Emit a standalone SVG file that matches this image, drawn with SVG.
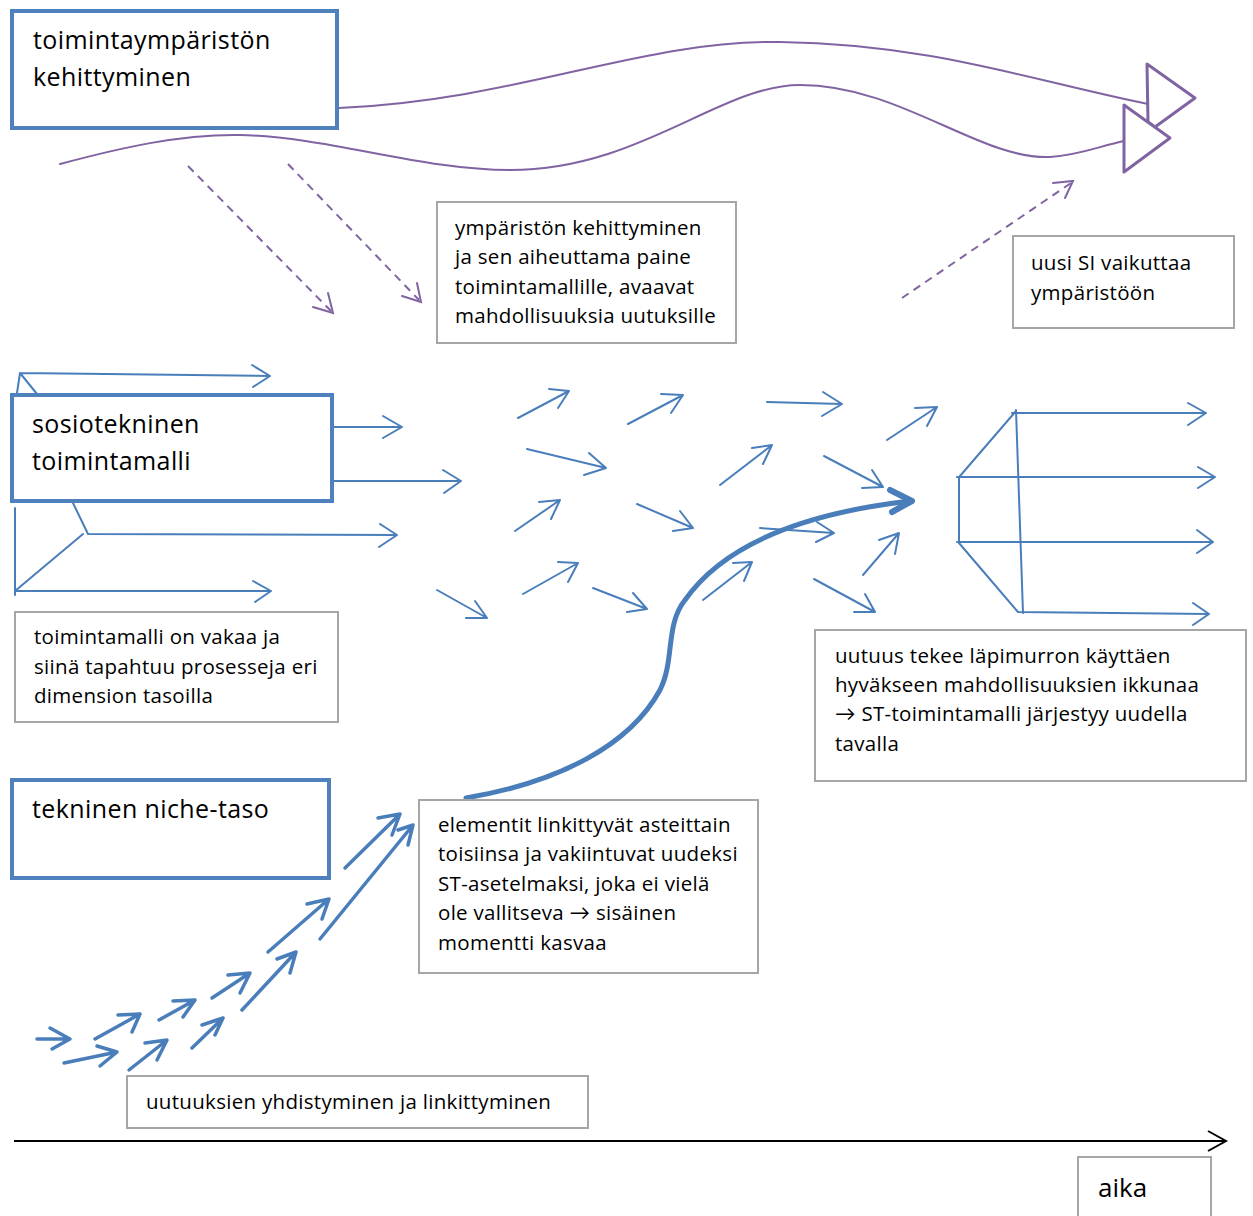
<svg xmlns="http://www.w3.org/2000/svg" width="1253" height="1216" viewBox="0 0 1253 1216">
<style>
.bx{fill:#fff;stroke:#4f81bd;stroke-width:4}
.gb{fill:#fff;stroke:#a6a6a6;stroke-width:2}
.t{font-family:"Open Sans",Lato,sans-serif;fill:#000}
.tl{font-size:25px;letter-spacing:0.4px}
.tm{font-size:20.5px;letter-spacing:0.3px}
.bl{fill:none;stroke:#4a7ebb;stroke-width:2;stroke-linecap:round;stroke-linejoin:round}
.bt{fill:none;stroke:#4a7ebb;stroke-width:3.5;stroke-linecap:round;stroke-linejoin:round}
.pu{fill:none;stroke:#8064a2;stroke-width:2;stroke-linecap:round}
.pd{fill:none;stroke:#8064a2;stroke-width:2;stroke-dasharray:8 6}
.tri{fill:#fff;stroke:#8064a2;stroke-width:3;stroke-linejoin:round}
</style>
<rect width="1253" height="1216" fill="#fff"/>
<g id="connectors">
  <path class="pu" d="M339,108 C520,100 640,40 780,42 C930,44 1030,80 1148,104"/>
  <path class="pu" d="M60,164 C120,148 180,134 240,135 C330,137 420,170 510,170 C640,170 720,85 800,85 C900,85 980,160 1050,157 C1080,155 1100,146 1124,141"/>
  <polygon class="tri" points="1147,64 1195,98 1155,127 1148,122"/>
  <polygon class="tri" points="1124,105 1170,138 1124,172"/>
  <path class="pd" d="M188,166 L331,311"/>
  <path class="pu" d="M328,293 L333,313 L313,307"/>
  <path class="pd" d="M288,164 L419,300"/>
  <path class="pu" d="M417,283 L421,302 L402,296"/>
  <path class="pd" d="M902,298 L1071,183"/>
  <path class="pu" d="M1053,183 L1073,181 L1065,198"/>
  <path class="bl" d="M17,393 L20,373 L37,394 M20,373 L270,376 M252,365 L270,376 L253,387"/>
  <path class="bl" d="M333,427 L402,427 M383,416 L402,427 L383,438"/>
  <path class="bl" d="M333,481 L461,481 M443,470 L461,481 L444,493"/>
  <path class="bl" d="M73,503 L88,534 L397,535 M380,524 L397,535 L379,547"/>
  <path class="bl" d="M83,534 L15,591 M15,508 L15,595"/>
  <path class="bl" d="M15,591 L271,591 M253,581 L271,591 L255,602"/>
  <path class="bl" d="M518,418 L569,391 M549,389 L569,391 L558,408"/>
  <path class="bl" d="M628,424 L683,395 M661,394 L683,395 L671,413"/>
  <path class="bl" d="M767,402 L842,404 M823,392 L842,404 L822,416"/>
  <path class="bl" d="M887,440 L937,407 M915,408 L937,407 L927,426"/>
  <path class="bl" d="M527,449 L606,468 M589,453 L606,468 L584,475"/>
  <path class="bl" d="M720,485 L772,445 M752,448 L772,445 L763,464"/>
  <path class="bl" d="M824,456 L883,487 M872,470 L883,487 L862,488"/>
  <path class="bl" d="M515,531 L560,500 M539,502 L560,500 L551,519"/>
  <path class="bl" d="M637,504 L693,528 M680,511 L693,528 L673,531"/>
  <path class="bl" d="M760,528 L834,533 M817,522 L834,533 L816,542"/>
  <path class="bl" d="M863,575 L899,533 M879,540 L899,533 L895,554"/>
  <path class="bl" d="M814,579 L875,612 M865,594 L875,612 L854,612"/>
  <path class="bl" d="M703,600 L752,562 M733,563 L752,562 L744,581"/>
  <path class="bl" d="M523,594 L578,563 M558,562 L578,563 L568,582"/>
  <path class="bl" d="M593,588 L647,609 M633,593 L647,609 L627,612"/>
  <path class="bl" d="M437,590 L487,618 M475,601 L487,618 L466,618"/>
  <path class="bl" d="M1012,413 L1206,413 M1188,403 L1206,413 L1188,425"/>
  <path class="bl" d="M1016,410 L1023,613 M1016,411 L960,476"/>
  <path class="bl" d="M957,477 L1215,477 M1198,467 L1215,477 L1198,488"/>
  <path class="bl" d="M959,477 L959,542"/>
  <path class="bl" d="M957,542 L1213,542 M1197,530 L1213,542 L1197,553"/>
  <path class="bl" d="M959,543 L1018,612 L1209,614 M1193,603 L1209,614 L1193,625"/>
  <path fill="none" stroke="#4a7ebb" stroke-width="5" stroke-linecap="round" d="M466,798 C560,782 630,745 660,690 C675,660 665,625 685,600 C720,550 790,515 910,501"/>
  <path fill="none" stroke="#4a7ebb" stroke-width="6" stroke-linecap="round" stroke-linejoin="round" d="M890,490 L912,501 L892,512"/>
  <path class="bt" d="M37,1039 L70,1039 M50,1028 L70,1039 L52,1049"/>
  <path class="bt" d="M64,1063 L117,1052 M97,1046 L117,1052 L100,1066"/>
  <path class="bt" d="M95,1039 L140,1014 M118,1015 L140,1014 L132,1032"/>
  <path class="bt" d="M129,1070 L167,1040 M145,1043 L167,1040 L157,1060"/>
  <path class="bt" d="M159,1020 L195,1000 M173,1001 L195,1000 L183,1017"/>
  <path class="bt" d="M192,1048 L223,1018 M202,1025 L223,1018 L215,1035"/>
  <path class="bt" d="M212,998 L250,973 M228,975 L250,973 L240,993"/>
  <path class="bt" d="M242,1010 L296,952 M277,959 L296,952 L290,973"/>
  <path class="bt" d="M268,952 L329,899 M307,904 L329,899 L322,919"/>
  <path class="bt" d="M345,868 L400,814 M378,818 L400,814 L392,835"/>
  <path class="bt" d="M320,939 L413,825 M398,830 L413,825 L408,845"/>
  <path fill="none" stroke="#000" stroke-width="2" d="M14,1141 L1226,1141 M1208,1131 L1226,1141 L1208,1151"/>
</g>
<g id="node-env">
  <rect class="bx" x="12" y="11" width="325" height="117"/>
  <text class="t tl" x="33" y="49">toimintaympäristön</text>
  <text class="t tl" x="33" y="86">kehittyminen</text>
</g>
<g id="node-st">
  <rect class="bx" x="12" y="395" width="320" height="106"/>
  <text class="t tl" x="32" y="433">sosiotekninen</text>
  <text class="t tl" x="32" y="470">toimintamalli</text>
</g>
<g id="node-niche">
  <rect class="bx" x="12" y="780" width="317" height="98"/>
  <text class="t tl" x="32" y="818">tekninen niche-taso</text>
</g>
<g id="note-env">
  <rect class="gb" x="437" y="202" width="299" height="141"/>
  <text class="t tm" x="455" y="235">ympäristön kehittyminen</text>
  <text class="t tm" x="455" y="264">ja sen aiheuttama paine</text>
  <text class="t tm" x="455" y="294">toimintamallille, avaavat</text>
  <text class="t tm" x="455" y="323">mahdollisuuksia uutuksille</text>
</g>
<g id="note-si">
  <rect class="gb" x="1013" y="236" width="221" height="92"/>
  <text class="t tm" x="1031" y="270">uusi SI vaikuttaa</text>
  <text class="t tm" x="1031" y="300">ympäristöön</text>
</g>
<g id="note-stable">
  <rect class="gb" x="15" y="612" width="323" height="110"/>
  <text class="t tm" x="34" y="644">toimintamalli on vakaa ja</text>
  <text class="t tm" x="34" y="674">siinä tapahtuu prosesseja eri</text>
  <text class="t tm" x="34" y="703">dimension tasoilla</text>
</g>
<g id="note-break">
  <rect class="gb" x="815" y="630" width="431" height="151"/>
  <text class="t tm" x="835" y="663">uutuus tekee läpimurron  käyttäen</text>
  <text class="t tm" x="835" y="692">hyväkseen mahdollisuuksien ikkunaa</text>
  <text class="t tm" x="835" y="721">→ ST-toimintamalli järjestyy uudella</text>
  <text class="t tm" x="835" y="751">tavalla</text>
</g>
<g id="note-elements">
  <rect class="gb" x="419" y="800" width="339" height="173"/>
  <text class="t tm" x="438" y="832">elementit linkittyvät asteittain</text>
  <text class="t tm" x="438" y="861">toisiinsa ja vakiintuvat uudeksi</text>
  <text class="t tm" x="438" y="891">ST-asetelmaksi, joka ei vielä</text>
  <text class="t tm" x="438" y="920">ole vallitseva → sisäinen</text>
  <text class="t tm" x="438" y="950">momentti kasvaa</text>
</g>
<g id="note-combine">
  <rect class="gb" x="127" y="1076" width="461" height="52"/>
  <text class="t tm" x="146" y="1109">uutuuksien yhdistyminen ja linkittyminen</text>
</g>
<g id="node-time">
  <rect class="gb" x="1078" y="1157" width="133" height="70"/>
  <text class="t" x="1098" y="1197" font-size="26">aika</text>
</g>
</svg>
